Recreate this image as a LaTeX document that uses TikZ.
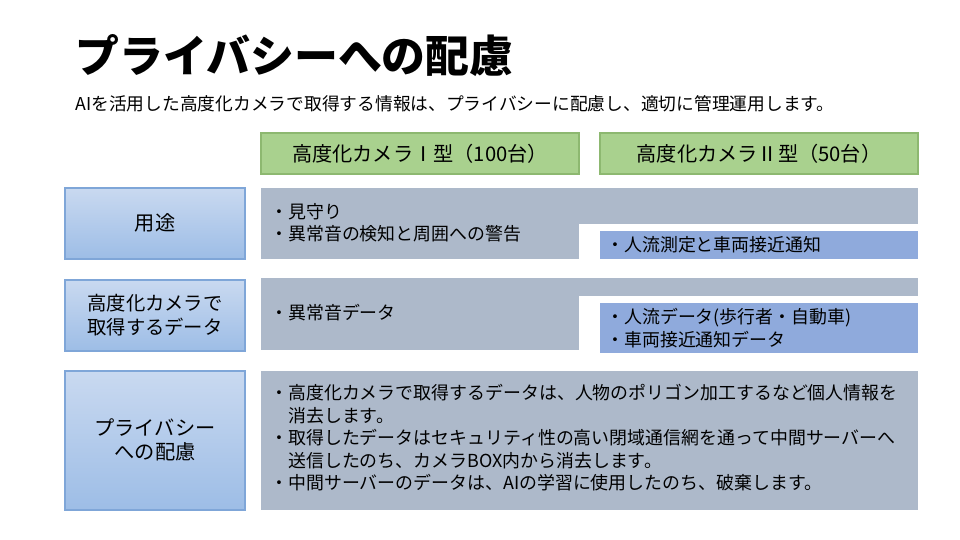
\documentclass[tikz,border=0pt]{standalone}
\usepackage{fontspec}
\setmainfont{Noto Sans CJK JP}
\definecolor{headGreen}{HTML}{A9D18E}
\definecolor{headLine}{HTML}{8DB870}
\definecolor{cellGray}{HTML}{ADB9CA}
\definecolor{cellBlue}{HTML}{8FAADC}
\definecolor{labelTop}{HTML}{C9D9F0}
\definecolor{labelBot}{HTML}{9DBDE6}
\definecolor{labelLine}{HTML}{7FA6D8}
\tikzset{
  head/.style={fill=headGreen, draw=headLine, line width=0.8pt},
  rowlabel/.style={top color=labelTop, bottom color=labelBot, draw=labelLine, line width=0.8pt},
  txt/.style={anchor=west, align=left, font=\fontsize{10.2}{12.8}\selectfont, inner sep=0pt}
}
\begin{document}
\begin{tikzpicture}[x=0.02cm, y=-0.02cm]
            \useasboundingbox[fill=white] (0,0) rectangle (960,540);
            % title
            \node[anchor=west, inner sep=0pt, font=\fontsize{25}{30}\selectfont\bfseries] (title) at (75,56) {プライバシーへの配慮};
            \node[anchor=west, inner sep=0pt, font=\fontsize{10.1}{12}\selectfont] (lead) at (75,104) {AIを活用した高度化カメラで取得する情報は、プライバシーに配慮し、適切に管理運用します。};

            % headers
            \draw[head] (261,133) rectangle (579,174);
            \node[font=\fontsize{11.5}{14}\selectfont] (headA) at (420,154) {高度化カメラⅠ型（100台）};
            \draw[head] (600,133) rectangle (918,174);
            \node[font=\fontsize{11.5}{14}\selectfont] (headB) at (759,154) {高度化カメラⅡ型（50台）};

            % row labels
            \draw[rowlabel] (65,188) rectangle (245,259);
            \node[font=\fontsize{11.5}{14}\selectfont] (use) at (155,223) {用途};
            \draw[rowlabel] (65,280) rectangle (245,351);
            \node[font=\fontsize{11}{13.5}\selectfont, align=center] (data) at (155,315) {高度化カメラで\\取得するデータ};
            \draw[rowlabel] (65,371) rectangle (245,510);
            \node[font=\fontsize{11.5}{14}\selectfont, align=center] (privacy) at (155,440) {プライバシー\\への配慮};

            % row 1
            \fill[cellGray] (261,188) rectangle (579,259);
            \fill[cellGray] (579,188) rectangle (918,224);
            \fill[cellBlue] (600,231) rectangle (918,259);
            \node[txt] (useA) at (270,223) {・見守り\\・異常音の検知と周囲への警告};
            \node[txt] (useB) at (606,245) {・人流測定と車両接近通知};

            % row 2
            \fill[cellGray] (261,278) rectangle (579,350);
            \fill[cellGray] (579,278) rectangle (918,296);
            \fill[cellBlue] (600,303) rectangle (918,353);
            \node[txt] (dataA) at (270,313) {・異常音データ};
            \node[txt] (dataB) at (606,328) {・人流データ(歩行者・自動車)\\・車両接近通知データ};

            % row 3
            \fill[cellGray] (261,371) rectangle (918,510);
            \node[txt] (privacyA) at (270,438) {・高度化カメラで取得するデータは、人物のポリゴン加工するなど個人情報を\\\hspace{1em}消去します。\\・取得したデータはセキュリティ性の高い閉域通信網を通って中間サーバーへ\\\hspace{1em}送信したのち、カメラBOX内から消去します。\\・中間サーバーのデータは、AIの学習に使用したのち、破棄します。};
\end{tikzpicture}
\end{document}
